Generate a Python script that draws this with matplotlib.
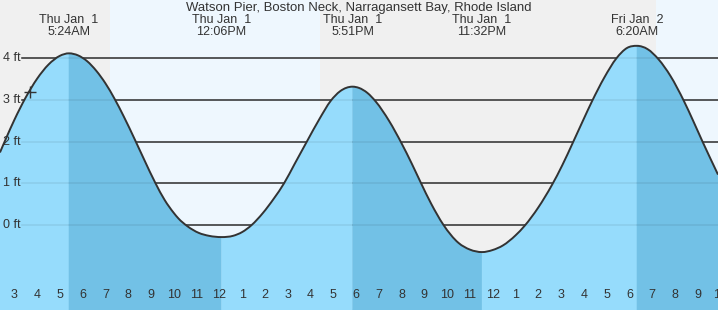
import numpy as np
import matplotlib.pyplot as plt
from matplotlib.path import Path
from matplotlib.patches import PathPatch

plt.rcParams['font.family'] = ['Liberation Sans', 'DejaVu Sans']

station = "Watson Pier, Boston Neck, Narragansett Bay, Rhode Island"

# hours after midnight Thu Jan 1 -> water level (ft)
tide_hours = [2.37, 2.63, 3.0, 3.5, 4.0, 4.5, 5.0, 5.4, 5.8, 6.2, 6.6, 7.0, 7.4, 7.8,
              8.3, 8.7, 9.2, 9.6, 10.0, 10.2, 10.6, 11.1, 11.55, 12.1, 12.6, 13.0,
              13.42, 13.9, 14.4, 14.84, 15.3, 15.84, 16.4, 16.89, 17.3, 17.85, 18.13,
              18.5, 18.87, 19.45, 20.0, 20.45, 20.84, 21.3, 21.83, 22.5, 23.0, 23.533,
              24.0, 24.45, 25.0, 25.4, 26.0, 26.6, 27.05, 27.53, 28.0, 28.36, 28.9,
              29.43, 29.9, 30.333, 30.8, 31.29, 31.8, 32.39, 32.8, 33.22, 33.89]
tide_ft = [1.74, 2.07, 2.52, 3.06, 3.51, 3.85, 4.06, 4.12, 4.07, 3.93, 3.70, 3.40, 3.03, 2.61,
           2.04, 1.57, 1.00, 0.60, 0.29, 0.16, -0.03, -0.19, -0.26, -0.29, -0.26, -0.17,
           0.00, 0.28, 0.64, 1.00, 1.46, 2.00, 2.55, 2.98, 3.21, 3.32, 3.29,
           3.17, 2.96, 2.50, 1.96, 1.47, 1.02, 0.51, 0.01, -0.43, -0.59, -0.65,
           -0.60, -0.49, -0.25, -0.02, 0.42, 0.96, 1.43, 1.99, 2.55, 2.97, 3.54,
           4.00, 4.25, 4.30, 4.22, 3.97, 3.58, 2.98, 2.50, 1.99, 1.21]

extreme_hours = [5.4, 12.1, 17.85, 23.533, 30.333]
extreme_days = ["Thu Jan  1", "Thu Jan  1", "Thu Jan  1", "Thu Jan  1", "Fri Jan  2"]
extreme_times = ["5:24AM", "12:06PM", "5:51PM", "11:32PM", "6:20AM"]

sunrise_hours = [7.2, 31.15]
sunset_hours = [16.42]

now_hour = 3.69
now_ft = 3.19

ft_levels = [0, 1, 2, 3, 4]
hour_ticks = list(range(3, 35))

x0, x1 = 2.372, 33.89
y0, y1 = -2.04, 5.40

t = np.array(tide_hours)
h = np.array(tide_ft)

# slopes for a smooth (hermite) stroke through the read points, flat at high/low water
slope = np.gradient(h, t)
for eh in extreme_hours:
    slope[np.isclose(t, eh)] = 0.0


def curve_verts(i0, i1):
    # bezier vertices running through points i0..i1
    verts = [(t[i0], h[i0])]
    for i in range(i0, i1):
        d = (t[i + 1] - t[i]) / 3
        verts += [(t[i] + d, h[i] + slope[i] * d),
                  (t[i + 1] - d, h[i + 1] - slope[i + 1] * d),
                  (t[i + 1], h[i + 1])]
    return verts


fig = plt.figure(figsize=(7.18, 3.10), dpi=100)
ax = fig.add_axes([0, 0, 1, 1])
ax.set_xlim(x0, x1)
ax.set_ylim(y0, y1)
for s in ax.spines.values():
    s.set_visible(False)

# night / day background
edges = sorted([x0, x1] + sunrise_hours + sunset_hours)
for a, b in zip(edges[:-1], edges[1:]):
    night = a == x0 or a in sunset_hours
    ax.axvspan(a, b, color='#f0f0f0' if night else '#eef7fe', lw=0, zorder=0)

for lv in ft_levels:
    ax.axhline(lv, xmin=22 / 718, xmax=1, color='#333333', lw=1.1, zorder=1)

# rising = light blue, falling = darker blue
idx = [0] + [int(np.argmin(abs(t - eh))) for eh in extreme_hours] + [len(t) - 1]
for i0, i1 in zip(idx[:-1], idx[1:]):
    col = '#96dcfc' if h[i1] > h[i0] else '#72c1e6'
    v = curve_verts(i0, i1)
    v += [(t[i1], y0), (t[i0], y0), (t[i0], h[i0])]
    codes = [Path.MOVETO] + [Path.CURVE4] * (len(v) - 4) + [Path.LINETO] * 2 + [Path.CLOSEPOLY]
    ax.add_patch(PathPatch(Path(v, codes), facecolor=col, edgecolor=col, lw=0.3, zorder=2))

for lv in ft_levels:
    ax.axhline(lv, xmin=22 / 718, xmax=1, color='black', alpha=0.08, lw=1.1, zorder=3)

v = curve_verts(0, len(t) - 1)
line = Path(v, [Path.MOVETO] + [Path.CURVE4] * (len(v) - 1))
ax.add_patch(PathPatch(line, facecolor='none', edgecolor='#333333', lw=1.4, zorder=4))
ax.plot(now_hour, now_ft, marker='+', ms=9, mew=1, color='#333333', zorder=5)

txt = dict(color='#333333', fontsize=9, zorder=6)
for lv in ft_levels:
    ax.text(3 / 718, lv, f"{lv} ft", ha='left', va='center',
            transform=ax.get_yaxis_transform(), **txt)

ax.text(0.5, 0.975, station, ha='center', va='center', transform=ax.transAxes,
        color='#333333', fontsize=9.45, zorder=6)
for eh, d, tm in zip(extreme_hours, extreme_days, extreme_times):
    ax.text(eh, 0.937, d, ha='center', va='center', transform=ax.get_xaxis_transform(), **txt)
    ax.text(eh, 0.897, tm, ha='center', va='center', transform=ax.get_xaxis_transform(), **txt)

for hr in hour_ticks:
    ax.text(hr, 0.047, str((hr - 1) % 12 + 1), ha='center', va='center',
            transform=ax.get_xaxis_transform(), **txt)

ax.set_xticks([hr for hr in hour_ticks if hr < x1])
ax.set_yticks([])
ax.tick_params(axis='x', direction='in', length=5.8, width=0.9, color='#333333',
               labelbottom=False)
for tk, hr in zip(ax.xaxis.get_major_ticks(), ax.get_xticks()):
    if hr == 24:
        tk.tick1line.set_markeredgewidth(2.4)
    tk.tick1line.set_zorder(6)

fig.savefig('out.png', dpi=100)
